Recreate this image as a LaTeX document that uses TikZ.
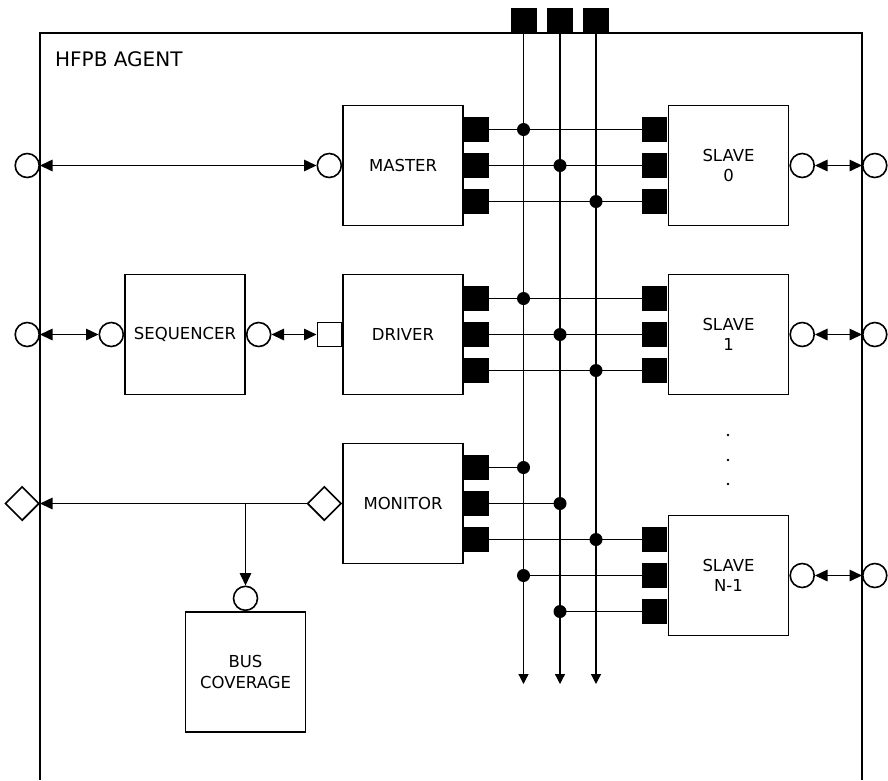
\documentclass[tikz,border=0pt]{standalone}
\usepackage{fontspec}
\setmainfont{DejaVu Sans}
\usepackage{tikz}
\usetikzlibrary{shapes,arrows,positioning,calc,arrows.meta}

\newcommand\boxfont{\fontsize{16.5}{20.3}\selectfont}

\begin{document}
\begin{tikzpicture}[x=1pt,y=-1pt,
    blk/.style={draw, line width=1.8pt, minimum width=120pt, minimum height=120pt, inner sep=0pt, align=center, font=\boxfont},
    port/.style={fill=black, minimum size=25pt, inner sep=0pt},
    sqport/.style={draw, fill=white, line width=1.6pt, minimum size=24pt, inner sep=0pt},
    cport/.style={draw, circle, fill=white, line width=1.6pt, minimum size=24pt, inner sep=0pt},
    dport/.style={draw, diamond, fill=white, line width=1.6pt, minimum size=34pt, inner sep=0pt},
    wire/.style={line width=1.2pt},
    link/.style={line width=1.5pt, {Triangle[length=12.5pt,width=11.5pt]}-{Triangle[length=12.5pt,width=11.5pt]}},
    feed/.style={line width=1.5pt, -{Triangle[length=12.5pt,width=11.5pt]}}
]
    \useasboundingbox (0,0) rectangle (888,780);

    % agent frame
    \draw[line width=1.9pt] (40,780) -- (40,33) -- (862,33) -- (862,780);
    \node[anchor=base west, inner sep=0pt, font=\fontsize{20}{24}\selectfont] (title) at (55,66.5) {HFPB AGENT};

    % blocks
    \node[blk] (master) at (403,165.5) {MASTER};
    \node[blk] (slave0) at (728.5,165.5) {SLAVE\\0};
    \node[blk] (seq) at (185,334.5) {SEQUENCER};
    \node[blk] (driver) at (403,334.5) {DRIVER};
    \node[blk] (slave1) at (728.5,334.5) {SLAVE\\1};
    \node[blk] (monitor) at (403,503.5) {MONITOR};
    \node[blk] (slaveN) at (728.5,575.5) {SLAVE\\N-1};
    \node[blk] (cov) at (245.5,672) {BUS\\COVERAGE};

    % interface ports
    \foreach \b in {master,driver,monitor}
        \foreach \i/\dy in {1/-36,2/0,3/36}
            \node[port, anchor=west] (\b\i) at ($(\b.east)+(0,\dy)$) {};
    \foreach \s in {slave0,slave1,slaveN}
        \foreach \i/\dy in {1/-36,2/0,3/36}
            \node[port, anchor=east] (\s\i) at ($(\s.west)+(0,\dy)$) {};

    % bus lines
    \foreach \i/\x in {1/523.5,2/560,3/596} {
        \node[port, minimum width=26pt, anchor=south] (bus\i) at (\x,33) {};
        \coordinate (end\i) at (\x,684);
        \draw[wire, -{Triangle[length=10pt,width=10pt]}] (bus\i.south) -- (end\i);
    }

    \foreach \b/\s in {master/slave0, driver/slave1}
        \foreach \i in {1,2,3} {
            \draw[wire] (\b\i.east) -- (\s\i.west);
            \fill (bus\i |- \b\i) circle (6.5pt);
        }

    \draw[wire] (monitor1.east) -- (bus1 |- monitor1);
    \draw[wire] (monitor2.east) -- (bus2 |- monitor2);
    \draw[wire] (monitor3.east) -- (slaveN1.west);
    \draw[wire] (bus1 |- slaveN2) -- (slaveN2.west);
    \draw[wire] (bus2 |- slaveN3) -- (slaveN3.west);
    \fill (bus1 |- monitor1) circle (6.5pt);
    \fill (bus2 |- monitor2) circle (6.5pt);
    \fill (bus3 |- monitor3) circle (6.5pt);
    \fill (bus1 |- slaveN2) circle (6.5pt);
    \fill (bus2 |- slaveN3) circle (6.5pt);

    \foreach \y in {435,460,484}
        \fill (728,\y) circle (1.4pt);

    % master and slave links
    \node[cport, anchor=east] (out0) at (40,165.5) {};
    \node[cport, anchor=east] (mc) at (master.west) {};
    \draw[link] (out0) -- (mc);

    \node[cport, anchor=west] (s0c) at (slave0.east) {};
    \node[cport, anchor=west] (rt0) at (862,165.5) {};
    \draw[link] (s0c) -- (rt0);

    \node[cport, anchor=west] (s1c) at (slave1.east) {};
    \node[cport, anchor=west] (rt1) at (862,334.5) {};
    \draw[link] (s1c) -- (rt1);

    \node[cport, anchor=west] (sNc) at (slaveN.east) {};
    \node[cport, anchor=west] (rtN) at (862,575.5) {};
    \draw[link] (sNc) -- (rtN);

    % sequencer to driver
    \node[cport, anchor=east] (out1) at (40,334.5) {};
    \node[cport, anchor=east] (seqin) at (seq.west) {};
    \node[cport, anchor=west] (seqout) at (seq.east) {};
    \node[sqport, anchor=east] (drvin) at (driver.west) {};
    \draw[link] (out1) -- (seqin);
    \draw[link] (seqout) -- (drvin);

    % monitor analysis port
    \node[dport, anchor=east] (out2) at (40,503.5) {};
    \node[dport, anchor=east] (mondp) at (monitor.west) {};
    \node[cport, anchor=south] (covin) at (cov.north) {};
    \coordinate (tap) at (245.5,503.5);
    \draw[feed] (mondp) -- (out2);
    \draw[feed] (tap) -- (covin);
\end{tikzpicture}
\end{document}
